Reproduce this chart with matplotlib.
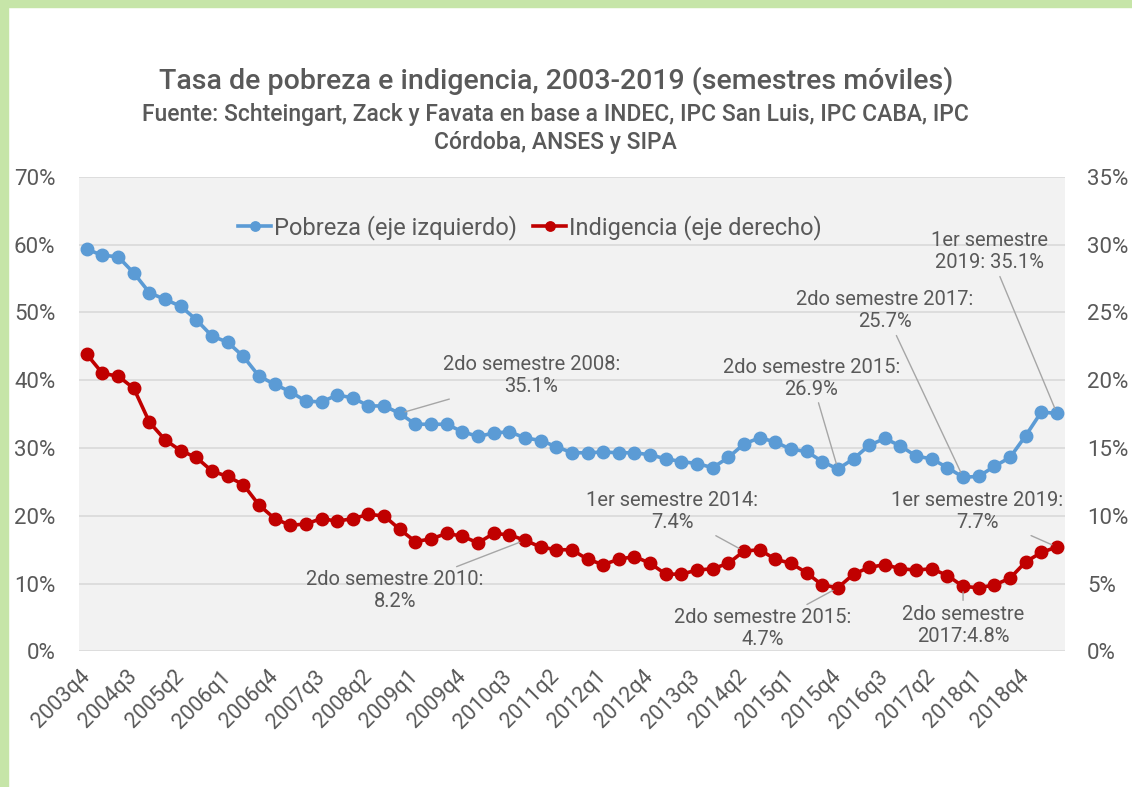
import matplotlib
matplotlib.use('Agg')
import matplotlib.pyplot as plt
from matplotlib.patches import Rectangle
from matplotlib.ticker import FuncFormatter

plt.rcParams['font.family'] = ['Roboto', 'DejaVu Sans']

# Periodos trimestrales 2003q4 .. 2019q2
periodos = ['2003q4']
for anio in range(2004, 2019 + 1):
    for q in range(1, 5):
        if anio == 2019 and q > 2:
            break
        periodos.append(f'{anio}q{q}')

# Pobreza (% eje izquierdo)
pobreza = [59.3, 58.4, 58.2, 55.8, 52.9, 51.9, 50.9, 48.9, 46.5, 45.6,
           43.5, 40.6, 39.4, 38.3, 36.9, 36.8, 37.8, 37.4, 36.2, 36.2,
           35.1, 33.5, 33.5, 33.5, 32.4, 31.7, 32.2, 32.4, 31.5, 31.1,
           30.2, 29.3, 29.3, 29.4, 29.3, 29.3, 29.0, 28.4, 28.0, 27.7,
           27.1, 28.6, 30.6, 31.5, 30.9, 29.8, 29.5, 28.0, 26.9, 28.4,
           30.4, 31.4, 30.3, 28.8, 28.4, 27.1, 25.7, 25.8, 27.3, 28.6,
           31.8, 35.3, 35.1]

# Indigencia (% eje derecho)
indigencia = [21.9, 20.5, 20.3, 19.4, 16.9, 15.6, 14.8, 14.3, 13.3, 12.9,
              12.3, 10.8, 9.8, 9.3, 9.4, 9.8, 9.6, 9.8, 10.1, 10.0,
              9.0, 8.1, 8.3, 8.7, 8.5, 8.0, 8.7, 8.6, 8.2, 7.7,
              7.5, 7.5, 6.8, 6.4, 6.8, 7.0, 6.5, 5.7, 5.7, 6.0,
              6.1, 6.5, 7.4, 7.5, 6.8, 6.5, 5.8, 4.9, 4.7, 5.7,
              6.2, 6.4, 6.1, 6.0, 6.1, 5.6, 4.8, 4.7, 4.9, 5.4,
              6.6, 7.3, 7.7]

# anotaciones: (indice, texto, x texto, y texto)
notas_pob = [(20, '2do semestre 2008:\n35.1%', 28.4, 40.7),
             (48, '2do semestre 2015:\n26.9%', 46.3, 40.3),
             (56, '2do semestre 2017:\n25.7%', 51.0, 50.2),
             (62, '1er semestre\n2019: 35.1%', 57.7, 58.9)]
notas_ind = [(28, '2do semestre 2010:\n8.2%', 19.7, 4.5),
             (42, '1er semestre 2014:\n7.4%', 37.4, 10.3),
             (48, '2do semestre 2015:\n4.7%', 43.2, 1.7),
             (56, '2do semestre\n2017:4.8%', 56.0, 1.95),
             (62, '1er semestre 2019:\n7.7%', 56.9, 10.3)]

azul = '#5B9BD5'
rojo = '#C00000'
gris = '#595959'

fig = plt.figure(figsize=(11.32, 7.87), dpi=100)
fig.patches.append(Rectangle((0, 0), 8 / 1132, 1, transform=fig.transFigure,
                             color='#C6E5A8', zorder=0))
fig.patches.append(Rectangle((0, 1 - 7 / 787), 1, 7 / 787, transform=fig.transFigure,
                             color='#C6E5A8', zorder=0))

ax = fig.add_axes([0.0698, 0.1722, 0.8708, 0.6033])
ax2 = ax.twinx()
ax.set_facecolor('#F2F2F2')

x = list(range(len(periodos)))
ax.plot(x, pobreza, color=azul, lw=2.6, marker='o', ms=9, label='Pobreza (eje izquierdo)')
ax2.plot(x, indigencia, color=rojo, lw=2.6, marker='o', ms=9, label='Indigencia (eje derecho)')

ax.set_xlim(-0.5, len(periodos) - 0.5)
ax.set_ylim(0, 70)
ax2.set_ylim(0, 35)
ax.set_yticks(range(0, 71, 10))
ax2.set_yticks(range(0, 36, 5))
pct = FuncFormatter(lambda v, p: f'{v:.0f}%')
ax.yaxis.set_major_formatter(pct)
ax2.yaxis.set_major_formatter(pct)
ax.grid(axis='y', color='#D9D9D9', lw=1.2)
ax.set_axisbelow(True)

ax.set_xticks(x[::3])
ax.set_xticklabels(periodos[::3], rotation=45, ha='right', va='center',
                   rotation_mode='anchor')

for a in (ax, ax2):
    for s in a.spines.values():
        s.set_visible(False)
    a.tick_params(length=0, labelsize=16, colors=gris)
ax.tick_params(axis='x', labelsize=15.5, pad=16)
ax.tick_params(axis='y', pad=17)
ax2.tick_params(axis='y', pad=16)

flecha = dict(arrowstyle='-', color='#A6A6A6', lw=1, shrinkA=1, shrinkB=4)
for i, txt, tx, ty in notas_pob:
    ax.annotate(txt, xy=(i, pobreza[i]), xytext=(tx, ty), ha='center', va='center',
                fontsize=14.5, color=gris, arrowprops=flecha, linespacing=1.2)
for i, txt, tx, ty in notas_ind:
    ax2.annotate(txt, xy=(i, indigencia[i]), xytext=(tx, ty), ha='center', va='center',
                 fontsize=14.5, color=gris, arrowprops=flecha, linespacing=1.2)

h1, l1 = ax.get_legend_handles_labels()
h2, l2 = ax2.get_legend_handles_labels()
ax2.legend(h1 + h2, l1 + l2, loc='center', bbox_to_anchor=(0.4575, 0.893), ncol=2,
           frameon=False, fontsize=17, labelcolor=gris, handlelength=1.4,
           handletextpad=0.1, columnspacing=0.7, markerscale=0.75)

fig.text(0.491, 0.898, 'Tasa de pobreza e indigencia, 2003-2019 (semestres móviles)',
         ha='center', va='center', fontsize=20.5, fontweight='medium', color=gris)
fig.text(0.491, 0.837, 'Fuente: Schteingart, Zack y Favata en base a INDEC, IPC San Luis, IPC CABA, IPC\nCórdoba, ANSES y SIPA',
         ha='center', va='center', fontsize=16.5, fontweight='medium', color=gris,
         linespacing=1.3)

fig.savefig('out.png', dpi=100, facecolor='white')
